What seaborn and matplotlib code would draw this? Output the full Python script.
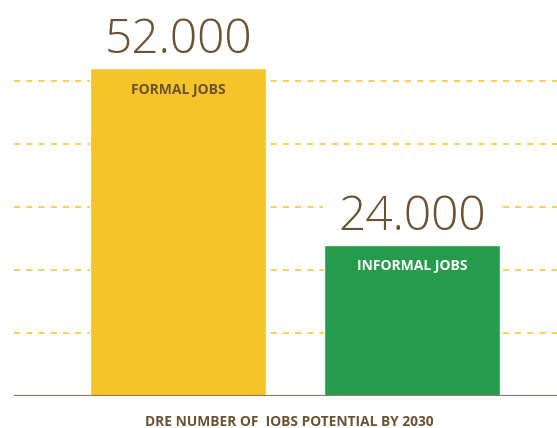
import matplotlib
matplotlib.use("Agg")
import matplotlib.pyplot as plt
import seaborn as sns
import pandas as pd

# Job potential of decentralised renewable energy by 2030
categories = ["FORMAL JOBS", "INFORMAL JOBS"]
jobs = [52000, 24000]
value_labels = ["52.000", "24.000"]
bar_colors = ["#F5C42B", "#259B4C"]
inner_text_colors = ["#6B5232", "#FFFFFF"]
grid_values = [10000, 20000, 30000, 40000, 50000]
title = "DRE NUMBER OF  IOBS POTENTIAL BY 2030"

BROWN = "#6B5232"

sns.set_theme(style="white")
plt.rcParams["font.family"] = ["Open Sans", "DejaVu Sans"]

df = pd.DataFrame({"category": categories, "jobs": jobs})

W, H, DPI = 557, 428, 100
fig = plt.figure(figsize=(W / DPI, H / DPI), dpi=DPI)
base_px = 396
ax = fig.add_axes([14 / W, (H - base_px) / H, (W - 14) / W, base_px / H])

for g in grid_values:
    ax.axhline(g, color="#F5C42B", lw=1.1, ls=(0, (4, 4)), zorder=0)

sns.barplot(data=df, x="category", y="jobs", hue="category",
            palette=bar_colors, legend=False, width=0.752, saturation=1,
            ax=ax, zorder=2)

ax.axhline(0, color="#8C7B62", lw=1.6, zorder=3)

px_per_unit = 6.3 / 1000
ax.set_ylim(0, base_px / px_per_unit)
ax.set_xlim(-(178 - 14) / 234, 1 + (557 - 412) / 234)

for i, (v, lab, ic) in enumerate(zip(jobs, value_labels, inner_text_colors)):
    # value label on a white plate that interrupts the grid lines
    ax.annotate(lab, (i, v), xytext=(0, 11.0), textcoords="offset points",
                ha="center", va="baseline", fontsize=34.5, fontweight="light",
                color=BROWN, zorder=1.5,
                bbox=dict(facecolor="white", edgecolor="none", pad=11))
    ax.annotate(categories[i], (i, v), xytext=(0, -15.5), textcoords="offset points",
                ha="center", va="center", fontsize=10, fontweight="bold",
                color=ic, zorder=4)

ax.set_xlabel("")
ax.set_ylabel("")
ax.set_xticks([])
ax.set_yticks([])
for s in ax.spines.values():
    s.set_visible(False)
ax.patch.set_alpha(0)

fig.text(289.5 / W, (H - 426) / H, title, ha="center", va="baseline",
         fontsize=9.9, fontweight="bold", color=BROWN)

fig.savefig("out.png", dpi=DPI)
